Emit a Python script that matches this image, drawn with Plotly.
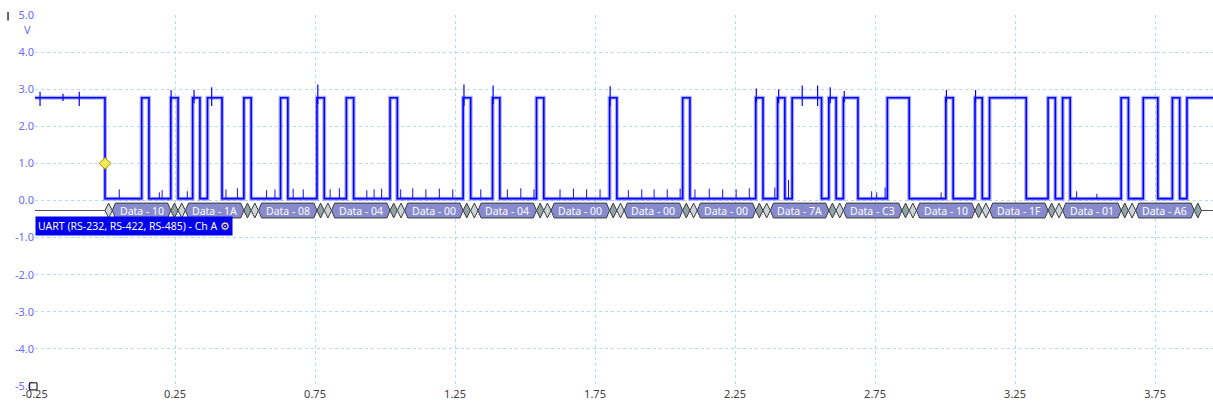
import plotly.graph_objects as go

# ---------------- data ----------------
high_v = 2.77
low_v = 0.05
# transitions (ms): first is a fall from idle-high, then alternating rise / fall, last is a rise
edge_ms = [0.000,
           0.131, 0.157, 0.235, 0.261, 0.313, 0.339, 0.366, 0.418, 0.496, 0.522,
           0.627, 0.653, 0.757, 0.783, 0.862, 0.888, 1.018, 1.044, 1.279, 1.306,
           1.384, 1.410, 1.541, 1.567, 1.802, 1.828, 2.063, 2.089, 2.324, 2.350,
           2.402, 2.428, 2.454, 2.559, 2.585, 2.611, 2.637, 2.689, 2.794, 2.872,
           3.003, 3.029, 3.107, 3.133, 3.159, 3.290, 3.368, 3.394, 3.420, 3.447,
           3.629, 3.655, 3.708, 3.760, 3.812, 3.838,
           3.864]

# small glitches on the low level
glitch_ms = [0.051, 0.194, 0.204, 0.294, 0.432, 0.473, 0.577, 0.607, 0.672, 0.708,
             0.804, 0.837, 0.935, 0.961, 0.988, 1.056, 1.099, 1.146, 1.194, 1.242,
             1.342, 1.437, 1.485, 1.532, 1.625, 1.673, 1.720, 1.768, 1.869, 1.917,
             1.961, 2.008, 2.054, 2.107, 2.158, 2.206, 2.254, 2.301, 2.392, 2.441,
             2.738, 2.756, 2.786, 2.986, 3.470, 3.542]
glitch_v = [0.30, 0.22, 0.28, 0.25, 0.30, 0.33, 0.28, 0.30, 0.32, 0.30,
            0.30, 0.33, 0.28, 0.30, 0.32, 0.30, 0.33, 0.30, 0.32, 0.30,
            0.30, 0.30, 0.33, 0.30, 0.30, 0.32, 0.30, 0.30, 0.28, 0.30,
            0.30, 0.30, 0.32, 0.30, 0.32, 0.30, 0.30, 0.33, 0.35, 0.55,
            0.25, 0.22, 0.35, 0.22, 0.25, 0.18]

# overshoot / jitter spikes on the high level
spike_ms = [-0.232, -0.150, -0.092, 0.236, 0.318, 0.381, 0.760, 1.282, 1.386, 1.804,
            2.326, 2.406, 2.490, 2.545, 2.590, 2.640, 3.005, 3.109]
spike_top = [2.93, 2.88, 2.93, 2.98, 2.98, 3.05, 3.13, 3.13, 3.10, 3.08,
             3.02, 3.00, 3.10, 3.10, 3.05, 2.95, 2.98, 2.98]
spike_bot = [2.55, 2.68, 2.55, 2.65, 2.62, 2.55, 2.60, 2.55, 2.60, 2.55,
             2.65, 2.62, 2.55, 2.55, 2.62, 2.65, 2.65, 2.65]

# decoded UART frames
frame_start_ms = [0.000, 0.261, 0.522, 0.783, 1.044, 1.306, 1.567, 1.828,
                  2.089, 2.350, 2.611, 2.872, 3.133, 3.394, 3.655]
frame_labels = ["10", "1A", "08", "04", "00", "04", "00", "00",
                "00", "7A", "C3", "10", "1F", "01", "A6"]
bit_ms = 0.0261

x_min, x_max = -0.25, 3.957
y_min, y_max = -5.0, 5.0
x_tick_vals = [-0.25, 0.25, 0.75, 1.25, 1.75, 2.25, 2.75, 3.25, 3.75]
y_tick_vals = [5, 4, 3, 2, 1, 0, -1, -2, -3, -4, -5]

# ---------------- build waveform ----------------
wx = [x_min]
wy = [high_v]
level = high_v
for t in edge_ms:
    wx += [t, t]
    new_level = low_v if level == high_v else high_v
    wy += [level, new_level]
    level = new_level
wx.append(x_max)
wy.append(level)

gx, gy = [], []
for t, v in zip(glitch_ms, glitch_v):
    gx += [t, t, None]
    gy += [low_v, v, None]

sx, sy = [], []
for t, a, b in zip(spike_ms, spike_top, spike_bot):
    sx += [t, t, None]
    sy += [b, a, None]

fig = go.Figure()

bus_mid, bus_top, bus_bot = -0.27, -0.07, -0.47

# bus idle line
fig.add_trace(go.Scatter(x=[x_min, x_max], y=[bus_mid, bus_mid], mode="lines",
                         line=dict(color="#505050", width=1.2), hoverinfo="skip"))

# halo / envelope underlay
fig.add_trace(go.Scatter(x=wx, y=wy, mode="lines",
                         line=dict(color="rgba(110,110,255,0.55)", width=4), hoverinfo="skip"))
fig.add_trace(go.Scatter(x=gx, y=gy, mode="lines",
                         line=dict(color="#1010ff", width=1), hoverinfo="skip"))
fig.add_trace(go.Scatter(x=sx, y=sy, mode="lines",
                         line=dict(color="#0000ff", width=1.2), hoverinfo="skip"))
fig.add_trace(go.Scatter(x=wx, y=wy, mode="lines",
                         line=dict(color="#0000ff", width=1.6), hoverinfo="skip"))

# trigger marker
fig.add_trace(go.Scatter(x=[edge_ms[0]], y=[1.0], mode="markers",
                         marker=dict(symbol="diamond", size=9, color="#f2ea55",
                                     line=dict(color="#9a9000", width=1)),
                         hoverinfo="skip"))

shapes = []
annotations = []


def diamond(x0, x1, fill):
    xm = (x0 + x1) / 2
    return dict(type="path", xref="x", yref="y",
                path=f"M {x0},{bus_mid} L {xm},{bus_top} L {x1},{bus_mid} L {xm},{bus_bot} Z",
                fillcolor=fill, line=dict(color="#3a3a3a", width=1), layer="above")


tip = 0.011
for fs, lab in zip(frame_start_ms, frame_labels):
    shapes.append(diamond(fs, fs + bit_ms, "#c9d3d8"))
    h0, h1 = fs + bit_ms, fs + 9 * bit_ms
    shapes.append(dict(type="path", xref="x", yref="y",
                       path=(f"M {h0},{bus_mid} L {h0 + tip},{bus_top} L {h1 - tip},{bus_top} "
                             f"L {h1},{bus_mid} L {h1 - tip},{bus_bot} L {h0 + tip},{bus_bot} Z"),
                       fillcolor="#878bcd", line=dict(color="#3a3a3a", width=1), layer="above"))
    shapes.append(diamond(fs + 9 * bit_ms, fs + 10 * bit_ms, "#8fa3a8"))
    annotations.append(dict(x=(h0 + h1) / 2, y=bus_mid, xref="x", yref="y",
                            text=f"Data - {lab}", showarrow=False,
                            font=dict(family="Noto Sans", size=10.5, color="white")))

# channel label box
annotations.append(dict(x=0, y=-0.70, xref="paper", yref="y", xanchor="left", yanchor="middle",
                        text="UART (RS-232, RS-422, RS-485) - Ch A <span style='color:#ffe27a'>⚙</span>",
                        showarrow=False, bgcolor="#0000ee", borderpad=2,
                        font=dict(family="Noto Sans", size=10.5, color="white")))
# unit label
annotations.append(dict(x=-0.002, y=0.96, xref="paper", yref="paper", xanchor="right", yanchor="middle",
                        text="V", showarrow=False,
                        font=dict(family="Noto Sans", size=11, color="#6a6aff")))

# little marks at the corners
shapes.append(dict(type="line", xref="paper", yref="paper", x0=-0.0229, x1=-0.0229,
                   y0=0.985, y1=1.008, line=dict(color="black", width=1.2)))
shapes.append(dict(type="rect", xref="paper", yref="paper", x0=-0.0045, x1=0.0017,
                   y0=-0.0105, y1=0.0085, line=dict(color="black", width=1), fillcolor="white",
                   layer="above"))

grid = dict(showgrid=True, gridcolor="#b6dbe8", griddash="dot", gridwidth=1,
            zeroline=False, showline=False, ticks="", automargin=False,
            ticklabeloverflow="allow")

fig.update_layout(
    width=1213, height=410,
    margin=dict(l=35, r=0, t=15, b=24),
    plot_bgcolor="white", paper_bgcolor="white",
    showlegend=False,
    shapes=shapes, annotations=annotations,
    xaxis=dict(range=[x_min, x_max], tickvals=x_tick_vals,
               ticktext=[f"{v:.2f}" for v in x_tick_vals],
               tickfont=dict(family="Noto Sans", size=11, color="#404040"), **grid),
    yaxis=dict(range=[y_min, y_max], tickvals=y_tick_vals,
               ticktext=[f"{v:.1f}" for v in y_tick_vals],
               tickfont=dict(family="Noto Sans", size=11, color="#6a6aff"), **grid),
)

fig.write_html("out.html", config=dict(displayModeBar=False),
               post_script="document.body.style.margin='0';document.body.style.overflow='hidden';")
